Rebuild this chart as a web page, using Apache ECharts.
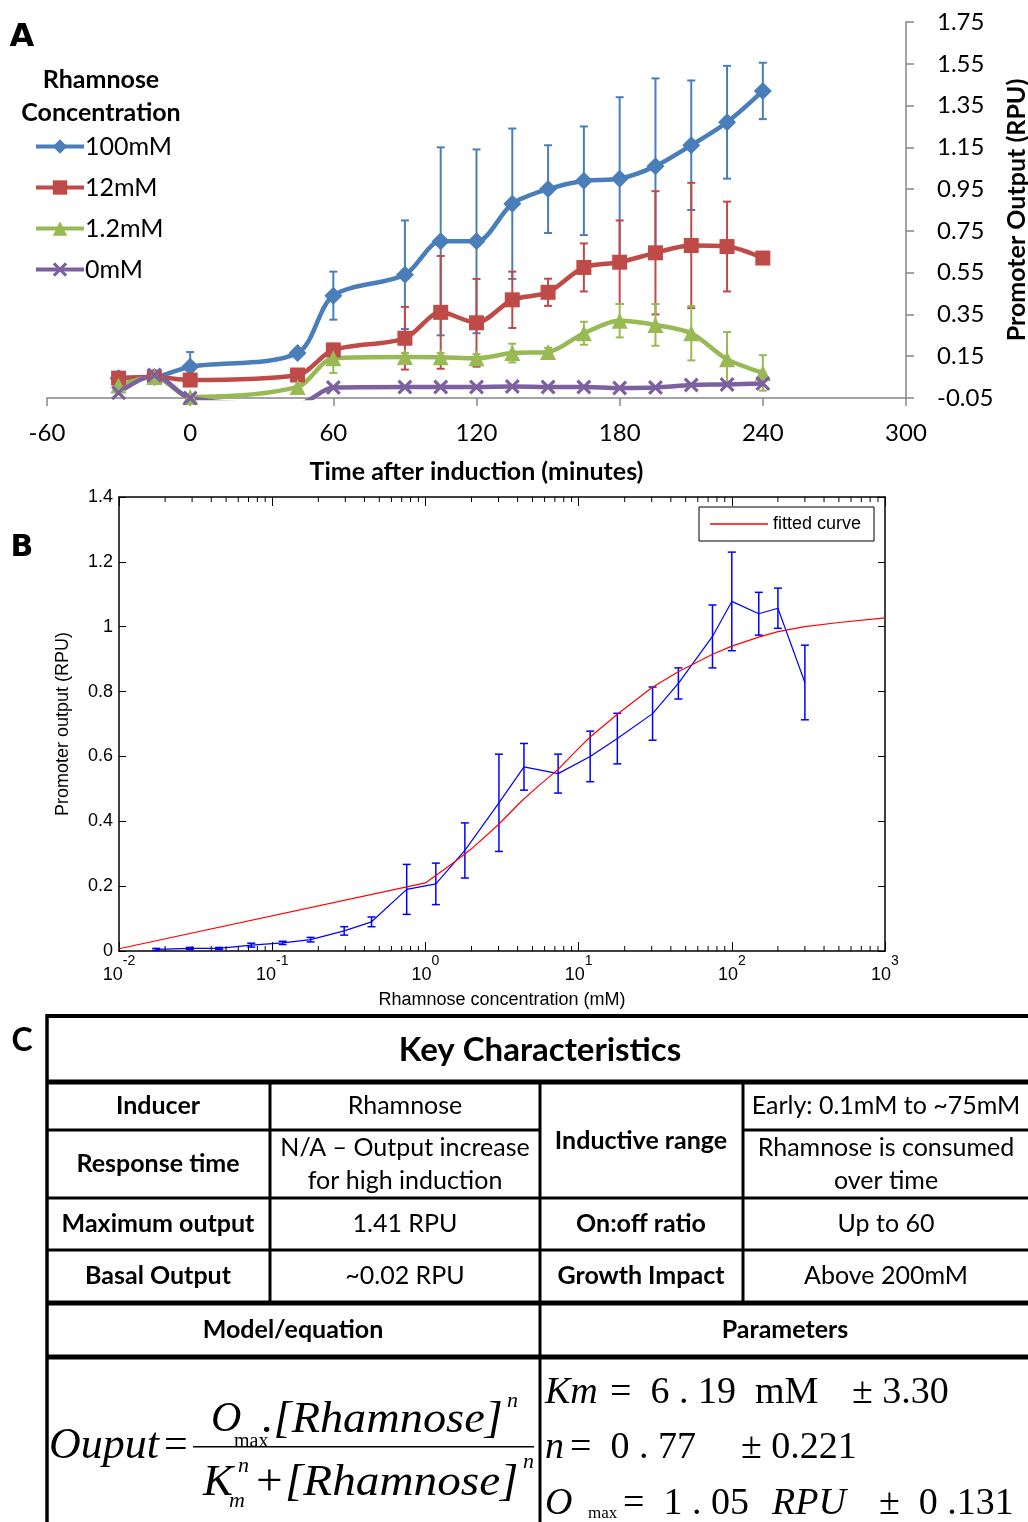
<!DOCTYPE html>
<html>
<head>
<meta charset="utf-8">
<script src="https://cdn.jsdelivr.net/npm/echarts@6/dist/echarts.min.js"></script>
<style>
html, body { margin: 0; padding: 0; background: #fff; }
#main { width: 1028px; height: 1522px; }
</style>
</head>
<body>
<div id="main"></div>
<script>
// ---- panel A : output over time ----
var timeA = [-30, -15, 0, 45, 60, 90, 105, 120, 135, 150, 165, 180, 195, 210, 225, 240];
var seriesNamesA = ['100mM', '12mM', '1.2mM', '0mM'];
var out100 = [0.045, 0.05, 0.10, 0.165, 0.44, 0.54, 0.70, 0.70, 0.88, 0.95, 0.99, 1.00, 1.06, 1.16, 1.27, 1.42];
var err100 = [0.03, 0, 0.07, 0, 0.115, 0.26, 0.45, 0.44, 0.36, 0.21, 0.26, 0.39, 0.42, 0.31, 0.27, 0.135];
var out12 = [0.045, 0.05, 0.036, 0.06, 0.18, 0.236, 0.36, 0.31, 0.42, 0.456, 0.575, 0.60, 0.645, 0.68, 0.675, 0.62];
var err12 = [0, 0, 0, 0, 0, 0.15, 0.27, 0.21, 0.135, 0.065, 0.115, 0.20, 0.295, 0.30, 0.215, 0];
var out1_2 = [0.01, 0.05, -0.045, 0.003, 0.14, 0.146, 0.145, 0.14, 0.165, 0.17, 0.26, 0.32, 0.30, 0.26, 0.136, 0.07];
var err1_2 = [0, 0, 0, 0, 0.07, 0.02, 0.02, 0.02, 0.045, 0.02, 0.055, 0.08, 0.10, 0.13, 0.13, 0.085];
var out0 = [-0.025, 0.06, -0.05, -0.08, 0.0, 0.003, 0.003, 0.003, 0.005, 0.003, 0.003, -0.002, 0.0, 0.012, 0.015, 0.02];
var err0 = [0, 0, 0, 0, 0, 0, 0, 0, 0, 0, 0, 0, 0, 0, 0, 0];

// ---- panel B : dose response ----
var concB = [0.0175, 0.029, 0.045, 0.073, 0.117, 0.178, 0.295, 0.445, 0.755, 1.17, 1.81, 3.02, 4.4, 7.35, 11.9, 17.9, 30.4, 44.8, 74.8, 100, 150, 200, 300];
var outB = [0.005, 0.008, 0.008, 0.018, 0.025, 0.035, 0.062, 0.09, 0.19, 0.207, 0.31, 0.457, 0.568, 0.547, 0.60, 0.655, 0.732, 0.825, 0.97, 1.078, 1.04, 1.057, 0.828];
var errB = [0.003, 0.003, 0.003, 0.006, 0.005, 0.007, 0.013, 0.015, 0.077, 0.064, 0.085, 0.15, 0.072, 0.06, 0.078, 0.078, 0.082, 0.048, 0.097, 0.152, 0.066, 0.062, 0.115];
var fitConc = [0.01, 1, 1.5, 2, 3, 4.3, 5.5, 7.35, 10, 11.9, 17.9, 30, 45, 75, 100, 150, 200, 300, 500, 1000];
var fitOut = [0.007, 0.21, 0.27, 0.315, 0.39, 0.465, 0.51, 0.56, 0.625, 0.66, 0.73, 0.812, 0.862, 0.915, 0.94, 0.968, 0.985, 1.0, 1.013, 1.027];
var minorTicksB = [0.02, 0.03, 0.04, 0.05, 0.06, 0.07, 0.08, 0.09, 0.2, 0.3, 0.4, 0.5, 0.6, 0.7, 0.8, 0.9,
  2, 3, 4, 5, 6, 7, 8, 9, 20, 30, 40, 50, 60, 70, 80, 90, 200, 300, 400, 500, 600, 700, 800, 900];

// ---- panel C : table text ----
var tableTitle = 'Key Characteristics';
var rowHeads = ['Inducer', 'Response time', 'Maximum output', 'Basal Output'];
var rowVals = ['Rhamnose', 'N/A \u2013 Output increase\nfor high induction', '1.41 RPU', '~0.02 RPU'];
var rightHeads = ['Inductive range', 'On:off ratio', 'Growth Impact'];
var rightVals = ['Early: 0.1mM to ~75mM', 'Rhamnose is consumed\nover time', 'Up to 60', 'Above 200mM'];
var footHeads = ['Model/equation', 'Parameters'];

var colorsA = ['#4a7ebb', '#be4b48', '#98b954', '#7d60a0'];
var xMark = 'path://M0,1.5L1.5,0L5,3.5L8.5,0L10,1.5L6.5,5L10,8.5L8.5,10L5,6.5L1.5,10L0,8.5L3.5,5Z';
var symbolsA = ['diamond', 'rect', 'triangle', xMark];
var symbolSizesA = [18, 15, 16, 15];

function zip(xs, ys) {
  return xs.map(function (x, i) { return [x, ys[i]]; });
}
function errData(xs, ys, es) {
  var d = [];
  xs.forEach(function (x, i) {
    if (es[i] > 0) d.push([x, ys[i] - es[i], ys[i] + es[i]]);
  });
  return d;
}
function errRenderer(color, cap, width) {
  return function (params, api) {
    var x = api.value(0);
    var top = api.coord([x, api.value(2)]);
    var bot = api.coord([x, api.value(1)]);
    var st = { stroke: color, lineWidth: width };
    return {
      type: 'group',
      children: [
        { type: 'line', shape: { x1: top[0], y1: top[1], x2: bot[0], y2: bot[1] }, style: st },
        { type: 'line', shape: { x1: top[0] - cap, y1: top[1], x2: top[0] + cap, y2: top[1] }, style: st },
        { type: 'line', shape: { x1: bot[0] - cap, y1: bot[1], x2: bot[0] + cap, y2: bot[1] }, style: st }
      ]
    };
  };
}

var chart = echarts.init(document.getElementById('main'), null, { renderer: 'canvas' });

var fontA = 'Lato, "Open Sans", sans-serif';
var fontB = '"Liberation Sans", Arial, sans-serif';
var serif = '"Liberation Serif", "Times New Roman", serif';

var outsA = [out100, out12, out1_2, out0];
var errsA = [err100, err12, err1_2, err0];

var series = [];
// panel A: error bars then line for each concentration
seriesNamesA.forEach(function (name, k) {
  series.push({
    type: 'custom', xAxisIndex: 0, yAxisIndex: 0, silent: true, z: 2,
    renderItem: errRenderer(colorsA[k], 4, 2),
    encode: { x: 0, y: [1, 2] },
    data: errData(timeA, outsA[k], errsA[k])
  });
  series.push({
    name: name, type: 'line', xAxisIndex: 0, yAxisIndex: 0, z: 3,
    data: zip(timeA, outsA[k]),
    smooth: 0.3,
    symbol: symbolsA[k], symbolSize: symbolSizesA[k],
    lineStyle: { color: colorsA[k], width: 4.5 },
    itemStyle: { color: colorsA[k] },
    clip: true
  });
});
// panel B
series.push({
  type: 'custom', xAxisIndex: 1, yAxisIndex: 1, silent: true,
  renderItem: function (params, api) {
    var v = api.value(0);
    var b = api.coord([v, 0]);
    var t = api.coord([v, 1.4]);
    var st = { stroke: '#000', lineWidth: 1 };
    return {
      type: 'group',
      children: [
        { type: 'line', shape: { x1: b[0], y1: b[1], x2: b[0], y2: b[1] - 5 }, style: st },
        { type: 'line', shape: { x1: t[0], y1: t[1], x2: t[0], y2: t[1] + 5 }, style: st }
      ]
    };
  },
  encode: { x: 0, y: 1 },
  data: minorTicksB.map(function (v) { return [v, 0]; })
});
series.push({
  type: 'custom', xAxisIndex: 1, yAxisIndex: 1, silent: true,
  renderItem: errRenderer('#0000ff', 4, 1.5),
  encode: { x: 0, y: [1, 2] },
  data: errData(concB, outB, errB)
});
series.push({
  name: 'data', type: 'line', xAxisIndex: 1, yAxisIndex: 1,
  data: zip(concB, outB), symbol: 'none',
  lineStyle: { color: '#0000ff', width: 1.2 }, itemStyle: { color: '#0000ff' }
});
series.push({
  name: 'fitted curve', type: 'line', xAxisIndex: 1, yAxisIndex: 1,
  data: zip(fitConc, fitOut), symbol: 'none',
  lineStyle: { color: '#ff0000', width: 1.2 }, itemStyle: { color: '#ff0000' }
});

// ---- table graphics ----
var g = [];
function hline(y, x1, x2, w) { g.push({ type: 'rect', shape: { x: x1, y: y - w / 2, width: x2 - x1, height: w }, style: { fill: '#000' } }); }
function vline(x, y1, y2, w) { g.push({ type: 'rect', shape: { x: x - w / 2, y: y1, width: w, height: y2 - y1 }, style: { fill: '#000' } }); }
function txt(s, x, y, size, opt) {
  opt = opt || {};
  g.push({
    type: 'text', x: x, y: y,
    scaleX: opt.sx || 1,
    style: {
      text: s, fill: '#000', fontSize: size,
      fontFamily: opt.family || fontA,
      fontWeight: opt.bold ? 'bold' : 'normal',
      fontStyle: opt.italic ? 'italic' : 'normal',
      align: opt.align || 'center', verticalAlign: 'middle',
      lineHeight: opt.lh || size * 1.3
    }
  });
}

hline(1016, 46, 1028, 4);
hline(1082, 46, 1028, 5);
hline(1130, 46, 540, 3);
hline(1130, 743, 1028, 3);
hline(1198, 46, 1028, 3);
hline(1250, 46, 1028, 3);
hline(1303, 46, 1028, 5);
hline(1357, 46, 1028, 5);
vline(47, 1014, 1522, 3.5);
vline(270, 1082, 1303, 3);
vline(540, 1082, 1522, 3);
vline(743, 1082, 1303, 3);

txt(tableTitle, 540, 1050, 33, { bold: true });
var rowY = [1106, 1164, 1224, 1276];
rowHeads.forEach(function (s, i) { txt(s, 158, rowY[i], 25, { bold: true }); });
rowVals.forEach(function (s, i) { txt(s, 405, rowY[i], 25, { lh: 33 }); });
var rightY = [1141, 1224, 1276];
rightHeads.forEach(function (s, i) { txt(s, 641, rightY[i], 25, { bold: true }); });
rightVals.forEach(function (s, i) { txt(s, 886, rowY[i], 25, { lh: 33 }); });
txt(footHeads[0], 293, 1330, 25, { bold: true });
txt(footHeads[1], 785, 1330, 25, { bold: true });

// equation
var it = { family: serif, italic: true, align: 'left' };
var rm = { family: serif, align: 'left' };
txt('Ouput', 49, 1446, 44, it);
txt('=', 164, 1446, 42, rm);
g.push({ type: 'rect', shape: { x: 193, y: 1446, width: 341, height: 1.6 }, style: { fill: '#000' } });
txt('O', 211, 1420, 42, it);
txt('max', 234, 1442, 20, rm);
txt('.[Rhamnose]', 262, 1420, 45, { family: serif, italic: true, align: 'left', sx: 1.03 });
txt('n', 507, 1401, 22, it);
txt('K', 203, 1483, 45, it);
txt('m', 229, 1501, 22, it);
txt('n', 238, 1466, 22, it);
txt('+[Rhamnose]', 253, 1483, 45, { family: serif, italic: true, align: 'left', sx: 1.05 });
txt('n', 523, 1462, 22, it);

// parameters
txt('Km', 545, 1393, 38, it);
txt('=  6 . 19  mM', 610, 1393, 38, rm);
txt('\u00b1 3.30', 852, 1393, 38, rm);
txt('n', 545, 1448, 38, it);
txt('=  0 . 77', 570, 1448, 38, rm);
txt('\u00b1 0.221', 741, 1448, 38, rm);
txt('O', 545, 1504, 38, it);
txt('max', 588, 1514, 17, rm);
txt('=  1 . 05', 623, 1504, 38, rm);
txt('RPU', 772, 1504, 38, it);
txt('\u00b1  0 .131', 879, 1504, 38, rm);

// panel letters and legend title
txt('A', 22, 38, 32, { bold: true, family: '"DejaVu Sans", sans-serif' });
txt('B', 22, 548, 30, { bold: true, family: '"DejaVu Sans", sans-serif' });
txt('C', 22, 1041, 32, { bold: true, family: fontA });
txt('Rhamnose', 101, 80, 25, { bold: true });
txt('Concentration', 101, 113, 25, { bold: true });

var option = {
  backgroundColor: '#fff',
  animation: false,
  grid: [
    { left: 47, right: 122, top: 22, bottom: 1124, outerBoundsMode: 'none', containLabel: false },
    { left: 119, right: 143, top: 497, bottom: 571, outerBoundsMode: 'none', containLabel: false }
  ],
  legend: [
    {
      data: seriesNamesA, orient: 'vertical', left: 34, top: 134, padding: 0,
      itemWidth: 48, itemHeight: 18, itemGap: 16,
      lineStyle: { width: 4 },
      textStyle: { fontSize: 25, fontFamily: fontA, color: '#000', padding: [0, 0, 0, -4] }
    },
    {
      data: ['fitted curve'], left: 699, top: 507, padding: [8, 13, 8, 11],
      itemWidth: 58, itemHeight: 1.5, icon: 'rect',
      borderColor: '#000', borderWidth: 1, backgroundColor: '#fff',
      textStyle: { fontSize: 18, fontFamily: fontB, color: '#000' }
    }
  ],
  xAxis: [
    {
      gridIndex: 0, type: 'value', min: -60, max: 300, interval: 60,
      axisLine: { onZero: false, lineStyle: { color: '#868686', width: 1.5 } },
      axisTick: { length: 8, lineStyle: { color: '#868686', width: 1.5 } },
      axisLabel: { fontSize: 24, fontFamily: fontA, color: '#000', margin: 23 },
      splitLine: { show: false },
      name: 'Time after induction (minutes)', nameLocation: 'middle', nameGap: 61,
      nameTextStyle: { fontSize: 25, fontWeight: 'bold', fontFamily: fontA, color: '#000' }
    },
    {
      gridIndex: 1, type: 'log', logBase: 10, min: 0.01, max: 1000,
      axisLine: { onZero: false, lineStyle: { color: '#000', width: 1.5 } },
      axisTick: { inside: true, length: 9, lineStyle: { color: '#000' } },
      axisLabel: {
        margin: 3,
        formatter: function (v) { return '{b|10}{s|' + Math.round(Math.log10(v)) + '}'; },
        rich: {
          b: { fontSize: 18, fontFamily: fontB, color: '#000', padding: [12, 0, 0, 0] },
          s: { fontSize: 14, fontFamily: fontB, color: '#000', verticalAlign: 'top' }
        }
      },
      splitLine: { show: false },
      name: 'Rhamnose concentration (mM)', nameLocation: 'middle', nameGap: 40,
      nameTextStyle: { fontSize: 18, fontFamily: fontB, color: '#000' }
    },
    {
      gridIndex: 1, type: 'log', logBase: 10, min: 0.01, max: 1000, position: 'top',
      axisLine: { onZero: false, lineStyle: { color: '#000', width: 1.5 } },
      axisTick: { inside: true, length: 9, lineStyle: { color: '#000' } },
      axisLabel: { show: false }, splitLine: { show: false }
    }
  ],
  yAxis: [
    {
      gridIndex: 0, type: 'value', position: 'right', min: -0.05, max: 1.75, interval: 0.2,
      axisLine: { show: true, onZero: false, lineStyle: { color: '#868686', width: 1.5 } },
      axisTick: { show: true, length: 8, lineStyle: { color: '#868686', width: 1.5 } },
      axisLabel: {
        fontSize: 24, fontFamily: fontA, color: '#000', margin: 31,
        formatter: function (v) { return v.toFixed(2); }
      },
      splitLine: { show: false },
      name: 'Promoter Output (RPU)', nameLocation: 'middle', nameRotate: 90, nameGap: 93,
      nameTextStyle: { fontSize: 25, fontWeight: 'bold', fontFamily: fontA, color: '#000' }
    },
    {
      gridIndex: 1, type: 'value', min: 0, max: 1.4, interval: 0.2,
      axisLine: { show: true, onZero: false, lineStyle: { color: '#000', width: 1.5 } },
      axisTick: { show: true, inside: true, length: 7, lineStyle: { color: '#000' } },
      axisLabel: {
        fontSize: 18, fontFamily: fontB, color: '#000', margin: 6,
        formatter: function (v) { return String(+v.toFixed(1)); }
      },
      splitLine: { show: false },
      name: 'Promoter output (RPU)', nameLocation: 'middle', nameRotate: 90, nameGap: 47,
      nameTextStyle: { fontSize: 18, fontFamily: fontB, color: '#000' }
    },
    {
      gridIndex: 1, type: 'value', min: 0, max: 1.4, interval: 0.2, position: 'right',
      axisLine: { show: true, onZero: false, lineStyle: { color: '#000', width: 1.5 } },
      axisTick: { show: true, inside: true, length: 7, lineStyle: { color: '#000' } },
      axisLabel: { show: false }, splitLine: { show: false }
    }
  ],
  graphic: g,
  series: series
};

chart.setOption(option);
</script>
</body>
</html>
